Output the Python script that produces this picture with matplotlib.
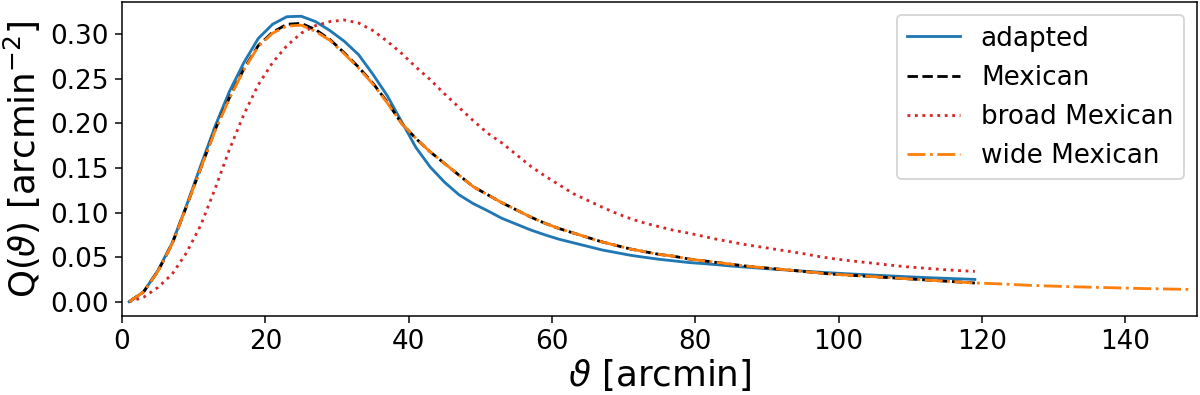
import numpy as np
import matplotlib
matplotlib.use("Agg")
import matplotlib.pyplot as plt
from matplotlib.ticker import MultipleLocator, FormatStrFormatter

# filter profiles Q(theta)
theta = np.arange(1, 120, 2)          # arcmin, 1 ... 119
theta_wide = np.arange(1, 150, 2)     # arcmin, 1 ... 149

q_adapted = [
    0.0, 0.011, 0.035, 0.066, 0.108, 0.153, 0.197, 0.236, 0.268, 0.295,
    0.311, 0.3195, 0.320, 0.314, 0.304, 0.292, 0.277, 0.255, 0.231, 0.202,
    0.173, 0.151, 0.134, 0.120, 0.110, 0.102, 0.0935, 0.087, 0.0805, 0.075,
    0.070, 0.066, 0.062, 0.058, 0.055, 0.052, 0.0497, 0.0475, 0.0458, 0.044,
    0.0428, 0.0415, 0.040, 0.0388, 0.0376, 0.0365, 0.0354, 0.0343, 0.0333, 0.0323,
    0.0314, 0.0306, 0.0298, 0.029, 0.0282, 0.0275, 0.0268, 0.0262, 0.0256, 0.025,
]

q_mexican = [
    0.0, 0.011, 0.034, 0.065, 0.107, 0.150, 0.193, 0.229, 0.261, 0.287,
    0.302, 0.311, 0.312, 0.305, 0.294, 0.279, 0.263, 0.245, 0.224, 0.200,
    0.183, 0.168, 0.155, 0.142, 0.129, 0.120, 0.111, 0.103, 0.095, 0.088,
    0.082, 0.077, 0.072, 0.067, 0.063, 0.059, 0.056, 0.053, 0.051, 0.048,
    0.046, 0.044, 0.042, 0.040, 0.0385, 0.037, 0.0355, 0.034, 0.0325, 0.031,
    0.030, 0.029, 0.028, 0.027, 0.026, 0.025, 0.024, 0.023, 0.022, 0.021,
]

q_broad = [
    0.0, 0.005, 0.016, 0.031, 0.055, 0.086, 0.127, 0.171, 0.210, 0.243,
    0.268, 0.287, 0.301, 0.3095, 0.314, 0.3158, 0.3125, 0.304, 0.292, 0.2785,
    0.263, 0.249, 0.233, 0.218, 0.203, 0.189, 0.178, 0.165, 0.152, 0.141,
    0.131, 0.121, 0.1135, 0.106, 0.099, 0.093, 0.088, 0.084, 0.080, 0.077,
    0.0735, 0.070, 0.067, 0.064, 0.0615, 0.059, 0.0565, 0.054, 0.051, 0.0485,
    0.0465, 0.0447, 0.043, 0.0412, 0.0395, 0.0382, 0.037, 0.0358, 0.0348, 0.034,
]

q_wide = [
    0.0, 0.011, 0.034, 0.065, 0.107, 0.150, 0.192, 0.228, 0.260, 0.286,
    0.301, 0.309, 0.310, 0.303, 0.293, 0.278, 0.262, 0.244, 0.223, 0.200,
    0.183, 0.168, 0.155, 0.142, 0.129, 0.120, 0.111, 0.103, 0.095, 0.088,
    0.082, 0.077, 0.072, 0.067, 0.063, 0.059, 0.056, 0.053, 0.051, 0.048,
    0.046, 0.044, 0.042, 0.040, 0.0385, 0.037, 0.0355, 0.034, 0.0325, 0.031,
    0.030, 0.029, 0.028, 0.027, 0.026, 0.025, 0.024, 0.023, 0.022, 0.021,
    0.0205, 0.0198, 0.019, 0.0183, 0.0177, 0.0172, 0.0167, 0.0163, 0.0159, 0.0155,
    0.0151, 0.0147, 0.0144, 0.0141, 0.0138,
]

plt.rcParams["font.size"] = 14

fig = plt.figure(figsize=(1200 / 135, 395 / 135), dpi=135)
ax = fig.add_subplot(111)
fig.subplots_adjust(left=0.1017, right=0.9975, top=0.995, bottom=0.2)

ax.plot(theta, q_adapted, "-", color="tab:blue", label="adapted")
ax.plot(theta, q_mexican, "--", color="black", label="Mexican")
ax.plot(theta, q_broad, ":", color="tab:red", label="broad Mexican")
ax.plot(theta_wide, q_wide, "-.", color="tab:orange", label="wide Mexican")

ax.set_xlim(0, 150)
ax.yaxis.set_major_locator(MultipleLocator(0.05))
ax.yaxis.set_major_formatter(FormatStrFormatter("%.2f"))
ax.set_xlabel(r"$\vartheta$ [arcmin]", fontsize=19, labelpad=1)
ax.set_ylabel(r"Q($\vartheta$) [arcmin$^{-2}$]", fontsize=19)
ax.legend(loc="upper right")

fig.savefig("out.png", dpi=135)
